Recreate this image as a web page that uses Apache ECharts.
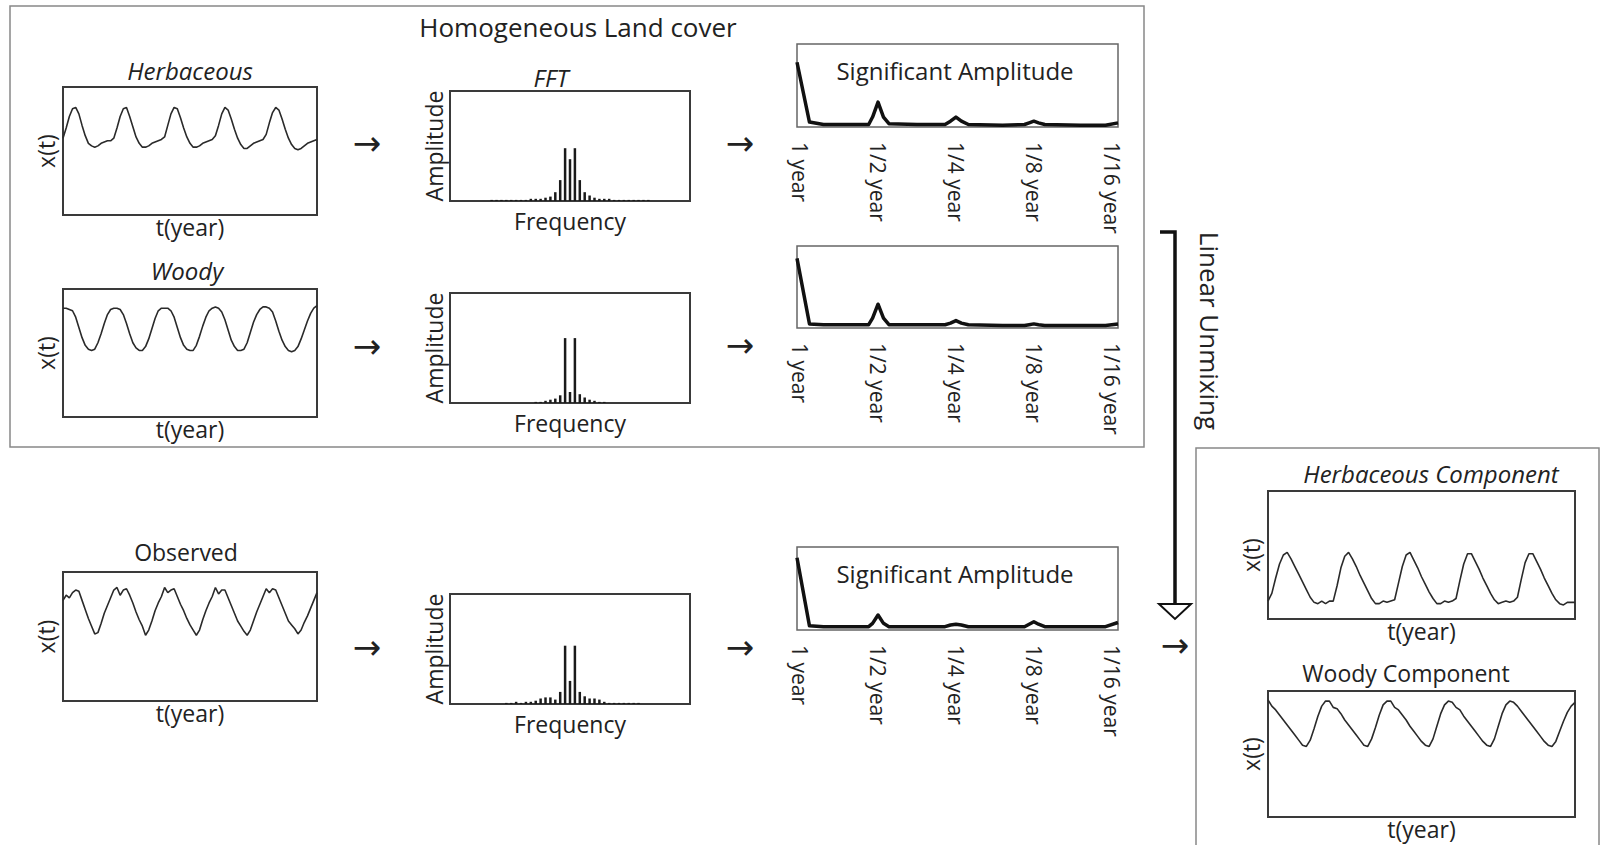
<!DOCTYPE html>
<html>
<head>
<meta charset="utf-8">
<title>Spectral unmixing diagram</title>
<script src="https://cdn.jsdelivr.net/npm/echarts@6/dist/echarts.min.js"></script>
<style>
  html, body { margin: 0; padding: 0; background: #fff; }
  #chart { width: 1602px; height: 845px; }
</style>
</head>
<body>
<div id="chart"></div>
<script>
// time series, one value per time step (0..1 of the panel height)
const herbaceous = [0.60,0.68,0.77,0.83,0.84,0.79,0.70,0.62,0.56,0.54,0.53,0.54,0.56,0.57,0.58,0.58,0.60,0.68,0.77,0.83,0.84,0.77,0.69,0.61,0.56,0.53,0.53,0.54,0.56,0.57,0.58,0.59,0.61,0.70,0.79,0.84,0.83,0.76,0.68,0.61,0.56,0.53,0.53,0.54,0.56,0.57,0.58,0.59,0.62,0.70,0.79,0.84,0.82,0.75,0.67,0.60,0.55,0.52,0.52,0.54,0.56,0.57,0.58,0.59,0.63,0.72,0.80,0.84,0.82,0.75,0.67,0.60,0.55,0.52,0.51,0.52,0.54,0.56,0.57,0.58,0.59];
const woody = [0.85,0.85,0.84,0.83,0.78,0.70,0.62,0.56,0.53,0.52,0.53,0.58,0.65,0.73,0.80,0.84,0.85,0.85,0.84,0.80,0.73,0.65,0.58,0.54,0.52,0.52,0.55,0.61,0.69,0.77,0.83,0.85,0.85,0.85,0.83,0.78,0.70,0.62,0.56,0.53,0.52,0.52,0.56,0.63,0.71,0.78,0.83,0.85,0.86,0.85,0.82,0.76,0.68,0.60,0.55,0.52,0.52,0.53,0.58,0.66,0.74,0.80,0.84,0.86,0.86,0.85,0.82,0.75,0.67,0.60,0.55,0.52,0.51,0.52,0.55,0.61,0.68,0.75,0.81,0.85,0.87];
const observed = [0.78,0.82,0.80,0.84,0.86,0.85,0.78,0.71,0.64,0.58,0.52,0.53,0.60,0.68,0.74,0.80,0.86,0.88,0.82,0.86,0.87,0.82,0.76,0.69,0.63,0.58,0.51,0.55,0.62,0.70,0.76,0.81,0.88,0.84,0.86,0.87,0.81,0.75,0.70,0.64,0.59,0.55,0.51,0.55,0.63,0.70,0.76,0.81,0.88,0.83,0.86,0.86,0.80,0.74,0.68,0.62,0.58,0.54,0.51,0.55,0.62,0.69,0.75,0.81,0.87,0.84,0.87,0.86,0.80,0.74,0.68,0.62,0.59,0.56,0.52,0.55,0.61,0.66,0.72,0.78,0.84];
const herbComponent = [0.14,0.20,0.32,0.43,0.50,0.52,0.47,0.41,0.35,0.29,0.23,0.17,0.13,0.12,0.14,0.12,0.14,0.14,0.26,0.40,0.49,0.52,0.47,0.41,0.34,0.28,0.22,0.16,0.12,0.12,0.14,0.13,0.14,0.15,0.28,0.41,0.50,0.52,0.46,0.40,0.33,0.27,0.21,0.16,0.12,0.12,0.14,0.13,0.14,0.16,0.30,0.43,0.51,0.51,0.45,0.39,0.32,0.26,0.20,0.15,0.12,0.13,0.14,0.13,0.14,0.17,0.31,0.44,0.51,0.51,0.45,0.39,0.32,0.26,0.20,0.15,0.12,0.11,0.13,0.13,0.13];
const woodyComponent = [0.93,0.88,0.85,0.81,0.77,0.73,0.69,0.65,0.61,0.57,0.56,0.61,0.70,0.80,0.88,0.92,0.92,0.87,0.86,0.82,0.77,0.73,0.69,0.65,0.61,0.57,0.56,0.62,0.71,0.81,0.89,0.92,0.92,0.87,0.85,0.81,0.77,0.72,0.68,0.64,0.60,0.57,0.56,0.62,0.72,0.82,0.89,0.92,0.91,0.87,0.85,0.80,0.76,0.72,0.68,0.64,0.60,0.57,0.56,0.62,0.72,0.82,0.89,0.92,0.91,0.88,0.84,0.80,0.76,0.72,0.68,0.64,0.60,0.57,0.56,0.60,0.68,0.76,0.83,0.88,0.91];

// FFT amplitudes per frequency bin
const fftHerbaceous = [0,0,0,0,0,0,0,0,0.01,0.01, 0.01,0.01,0.01,0.01,0.01,0.01,0.02,0.02,0.02,0.03, 0.04,0.08,0.19,0.48,0.38,0.48,0.19,0.08,0.05,0.03, 0.02,0.02,0.02,0.01,0.01,0.01,0.01,0.01,0.01,0.01, 0.01,0,0,0,0,0,0,0,0];
const fftWoody = [0,0,0,0,0,0,0,0,0,0, 0,0,0,0,0,0,0,0.01,0.01,0.02, 0.03,0.04,0.07,0.59,0.10,0.59,0.08,0.05,0.03,0.02, 0.01,0.01,0,0,0,0,0,0,0,0, 0,0,0,0,0,0,0,0,0];
const fftObserved = [0,0,0,0,0,0,0,0,0,0, 0,0.01,0.01,0.02,0.01,0.02,0.02,0.03,0.05,0.06, 0.06,0.04,0.11,0.53,0.21,0.53,0.11,0.07,0.05,0.05, 0.04,0.02,0.01,0.01,0.01,0.01,0.01,0.01,0.01,0, 0,0,0,0,0,0,0,0,0];

// significant amplitude curves (x in octaves: 0 = 1 year ... 4 = 1/16 year)
const sigFreq = [-0.04,0.12,0.30,0.88,0.93,1.00,1.07,1.14,1.50,1.86,1.93,2.00,2.07,2.16,2.60,2.88,2.94,3.00,3.06,3.14,3.60,3.92,4.08];
const sigHerbaceous = [0.78,0.06,0.03,0.03,0.12,0.30,0.12,0.04,0.03,0.03,0.07,0.12,0.07,0.03,0.02,0.03,0.05,0.07,0.05,0.03,0.02,0.02,0.05];
const sigWoody = [0.85,0.05,0.04,0.04,0.12,0.29,0.12,0.04,0.04,0.04,0.06,0.09,0.06,0.04,0.03,0.03,0.04,0.05,0.04,0.03,0.03,0.03,0.05];
const sigObserved = [0.87,0.05,0.04,0.04,0.08,0.18,0.08,0.04,0.04,0.04,0.06,0.07,0.06,0.04,0.04,0.04,0.07,0.10,0.07,0.04,0.04,0.04,0.09];
const sigTickValues = [0, 1, 2, 3, 4];
const sigTickLabels = ['1 year', '1/2 year', '1/4 year', '1/8 year', '1/16 year'];

const timeSteps = herbaceous.map((v, i) => i);
const fftBins = fftHerbaceous.map((v, i) => i);

const FONT = '"Open Sans", "Noto Sans", sans-serif';
const INK = '#222';

// layout of the panels: [left, top, width, height]
const panels = [
  { kind: 'ts',  box: [63, 87, 254, 128],   data: herbaceous },
  { kind: 'fft', box: [450, 91, 240, 110],  data: fftHerbaceous },
  { kind: 'sig', box: [797, 44, 321, 83],   data: sigHerbaceous },
  { kind: 'ts',  box: [63, 289, 254, 128],  data: woody },
  { kind: 'fft', box: [450, 293, 240, 110], data: fftWoody },
  { kind: 'sig', box: [797, 246, 321, 82],  data: sigWoody },
  { kind: 'ts',  box: [63, 572, 254, 129],  data: observed },
  { kind: 'fft', box: [450, 594, 240, 110], data: fftObserved },
  { kind: 'sig', box: [797, 547, 321, 83],  data: sigObserved },
  { kind: 'ts',  box: [1268, 491, 307, 128], data: herbComponent },
  { kind: 'ts',  box: [1268, 691, 307, 126], data: woodyComponent }
];

const nameStyle = { color: INK, fontSize: 23, fontFamily: FONT };
const hidden = { axisLine: { show: false }, axisTick: { show: false }, axisLabel: { show: false }, splitLine: { show: false } };

const grid = [], xAxis = [], yAxis = [], series = [];

panels.forEach((p, i) => {
  const [l, t, w, h] = p.box;
  grid.push({
    left: l, top: t, width: w, height: h,
    show: true,
    borderColor: p.kind === 'sig' ? '#666' : '#3a3a3a',
    borderWidth: p.kind === 'sig' ? 1.5 : 2,
    backgroundColor: 'transparent'
  });
  yAxis.push(Object.assign({ gridIndex: i, type: 'value', min: 0, max: 1 }, hidden,
    p.kind === 'ts' ? { name: 'x(t)', nameLocation: 'middle', nameRotate: 90, nameGap: 6, nameTextStyle: nameStyle } :
    p.kind === 'fft' ? { name: 'Amplitude', nameLocation: 'middle', nameRotate: 90, nameGap: 5, nameTextStyle: nameStyle } : {}));

  if (p.kind === 'ts') {
    xAxis.push(Object.assign({ gridIndex: i, type: 'category', data: timeSteps, boundaryGap: false }, hidden,
      { name: 't(year)', nameLocation: 'middle', nameGap: 0, nameTextStyle: nameStyle }));
    series.push({
      type: 'line', xAxisIndex: i, yAxisIndex: i, data: p.data,
      showSymbol: false, silent: true,
      lineStyle: { color: '#2a2a2a', width: 1.6 }
    });
  } else if (p.kind === 'fft') {
    xAxis.push(Object.assign({ gridIndex: i, type: 'category', data: fftBins, boundaryGap: true }, hidden,
      { name: 'Frequency', nameLocation: 'middle', nameGap: 8, nameTextStyle: nameStyle }));
    series.push({
      type: 'bar', xAxisIndex: i, yAxisIndex: i, data: p.data,
      barWidth: 2.5, silent: true,
      itemStyle: { color: '#1a1a1a' }
    });
  } else {
    xAxis.push({
      gridIndex: i, type: 'value', min: -0.04, max: 4.08,
      axisLine: { show: false }, axisTick: { show: false }, splitLine: { show: false },
      axisLabel: {
        show: true, rotate: -90, margin: 15,
        customValues: sigTickValues,
        formatter: v => sigTickLabels[Math.round(v)],
        color: INK, fontSize: 21, fontFamily: FONT
      }
    });
    series.push({
      type: 'line', xAxisIndex: i, yAxisIndex: i,
      data: sigFreq.map((f, k) => [f, p.data[k]]),
      showSymbol: false, silent: true,
      lineStyle: { color: '#111', width: 3.5, join: 'round' }
    });
  }
});

function label(text, x, y, opts) {
  return {
    type: 'text', x: x, y: y, rotation: (opts && opts.rotation) || 0, z: 10,
    style: Object.assign({
      text: text, fill: INK, fontSize: 23, fontFamily: FONT,
      textAlign: 'center', textVerticalAlign: 'middle'
    }, opts && opts.style)
  };
}
const italic = { style: { fontStyle: 'italic', fontSize: 24 } };
const arrow = (x, y) => label('\u2192', x, y, { style: { fontSize: 34, fontFamily: '"DejaVu Sans", sans-serif', fill: '#222' } });

const graphic = [
  { type: 'rect', shape: { x: 10, y: 6, width: 1134, height: 441 }, style: { fill: 'none', stroke: '#888', lineWidth: 1.5 } },
  { type: 'rect', shape: { x: 1196, y: 448, width: 403, height: 420 }, style: { fill: 'none', stroke: '#888', lineWidth: 1.5 } },
  { type: 'polyline', shape: { points: [[1160, 232], [1175, 232], [1175, 605]] }, style: { fill: 'none', stroke: '#111', lineWidth: 3.5 } },
  { type: 'polygon', shape: { points: [[1159, 604], [1191, 604], [1175, 619]] }, style: { fill: '#fff', stroke: '#111', lineWidth: 2 } },
  label('Homogeneous Land cover', 578, 27, { style: { fontSize: 26 } }),
  label('Herbaceous', 190, 70, italic),
  label('FFT', 551, 77, italic),
  label('Significant Amplitude', 955, 70, { style: { fontSize: 24 } }),
  label('Woody', 187, 270, italic),
  label('Observed', 186, 552),
  label('Significant Amplitude', 955, 573, { style: { fontSize: 24 } }),
  label('Herbaceous Component', 1431, 473, italic),
  label('Woody Component', 1406, 673),
  label('Linear Unmixing', 1210, 331, { rotation: -Math.PI / 2, style: { fontSize: 26 } }),
  arrow(367, 143), arrow(740, 143),
  arrow(367, 346), arrow(740, 345),
  arrow(367, 647), arrow(740, 647),
  arrow(1175, 645)
];

const chart = echarts.init(document.getElementById('chart'), null, { renderer: 'svg' });
chart.setOption({
  backgroundColor: '#fff',
  animation: false,
  grid: grid,
  xAxis: xAxis,
  yAxis: yAxis,
  series: series,
  graphic: graphic
});
</script>
</body>
</html>
